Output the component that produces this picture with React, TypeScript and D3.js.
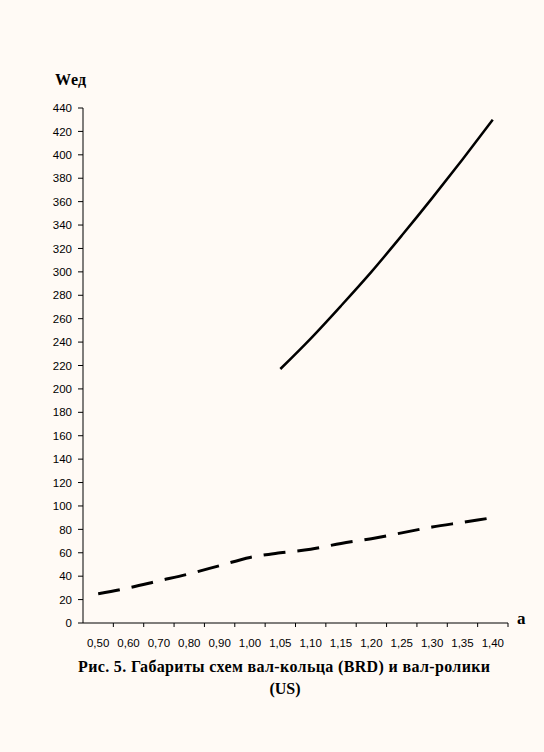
import React from "react";
import * as d3 from "d3";

const categories = ["0,50", "0,60", "0,70", "0,80", "0,90", "1,00", "1,05", "1,10", "1,15", "1,20", "1,25", "1,30", "1,35", "1,40"];
const usValues = [25, 30, 36, 42, 49, 56, 60, 63, 68, 72, 77, 82, 86, 90];
const brdCategories = ["1,05", "1,10", "1,15", "1,20", "1,25", "1,30", "1,35", "1,40"];
const brdValues = [217, 243, 271, 300, 331, 363, 396, 430];
const yTicks = d3.range(0, 441, 20);

const W = 544;
const H = 752;
const left = 83;
const right = 508;
const top = 108;
const bottom = 623;

export default function App() {
  const x = d3.scaleBand<string>().domain(categories).range([left, right]).padding(0);
  const y = d3.scaleLinear().domain([0, 440]).range([bottom, top]);
  const cx = (c: string) => (x(c) as number) + x.bandwidth() / 2;

  const line = d3
    .line<[string, number]>()
    .x((d) => cx(d[0]))
    .y((d) => y(d[1]))
    .curve(d3.curveMonotoneX);

  const usPath = line(categories.map((c, i) => [c, usValues[i]] as [string, number])) || "";
  const brdPath = line(brdCategories.map((c, i) => [c, brdValues[i]] as [string, number])) || "";

  const sans = "Liberation Sans, Arial, sans-serif";
  const serif = "Liberation Serif, DejaVu Serif, serif";

  return (
    <svg
      width={W}
      height={H}
      style={{ position: "absolute", left: 0, top: 0, display: "block" }}
    >
      <rect x={0} y={0} width={W} height={H} fill="#FFFAF5" />
      {/* y axis */}
      <line x1={left} x2={left} y1={top} y2={bottom} stroke="#000" strokeWidth={1} />
      {yTicks.map((t) => (
        <g key={t}>
          <line x1={left - 5} x2={left} y1={y(t)} y2={y(t)} stroke="#000" strokeWidth={1} />
          <text
            x={left - 11}
            y={y(t)}
            dy="0.36em"
            textAnchor="end"
            fontFamily={sans}
            fontSize={11.5}
            fill="#000"
          >
            {t}
          </text>
        </g>
      ))}
      {/* x axis */}
      <line x1={left} x2={right} y1={bottom} y2={bottom} stroke="#000" strokeWidth={1} />
      {categories.map((c, i) => (
        <line
          key={"t" + i}
          x1={(x(c) as number) + x.bandwidth()}
          x2={(x(c) as number) + x.bandwidth()}
          y1={bottom}
          y2={bottom + 4}
          stroke="#000"
          strokeWidth={1}
        />
      ))}
      {categories.map((c) => (
        <text
          key={c}
          x={cx(c)}
          y={bottom + 24}
          textAnchor="middle"
          fontFamily={sans}
          fontSize={11.5}
          fill="#000"
        >
          {c}
        </text>
      ))}
      {/* series */}
      <path d={usPath} fill="none" stroke="#000" strokeWidth={3} strokeDasharray="22,12" />
      <path d={brdPath} fill="none" stroke="#000" strokeWidth={2.5} />
      {/* axis titles */}
      <text x={55} y={85} style={{ fontFamily: serif }} fontSize={16} fontWeight="bold" fill="#000">
        Wед
      </text>
      <text x={517} y={624} style={{ fontFamily: serif }} fontSize={17} fontWeight="bold" fill="#000">
        a
      </text>
      {/* caption */}
      <text
        x={78}
        y={672}
        textLength={412}
        lengthAdjust="spacing"
        style={{ fontFamily: serif }}
        fontSize={16}
        fontWeight="bold"
        fill="#000"
      >
        Рис. 5. Габариты схем вал-кольца (BRD) и вал-ролики
      </text>
      <text x={285} y={694} textAnchor="middle" style={{ fontFamily: serif }} fontSize={16} fontWeight="bold" fill="#000">
        (US)
      </text>
    </svg>
  );
}
